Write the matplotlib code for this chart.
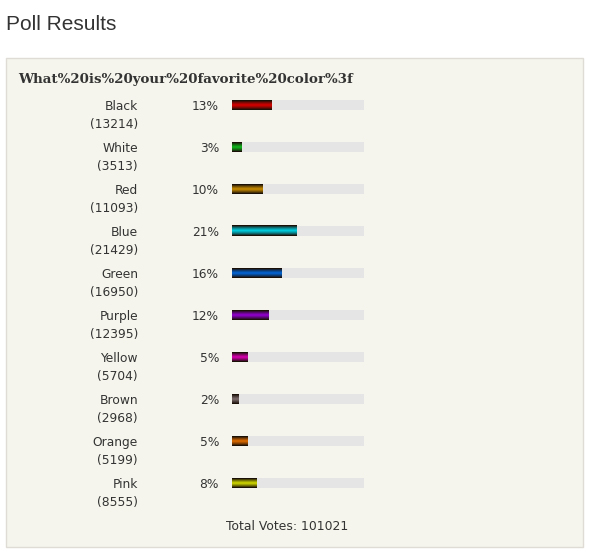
import numpy as np
import matplotlib
matplotlib.use("Agg")
import matplotlib.pyplot as plt
from matplotlib.patches import Rectangle
from matplotlib.colors import LinearSegmentedColormap

# poll data
options = ["Black", "White", "Red", "Blue", "Green", "Purple", "Yellow", "Brown", "Orange", "Pink"]
votes = [13214, 3513, 11093, 21429, 16950, 12395, 5704, 2968, 5199, 8555]
percents = [13, 3, 10, 21, 16, 12, 5, 2, 5, 8]
bar_colors = ["#e00000", "#10c020", "#d09000", "#00c8d8", "#0068e0",
              "#9800d8", "#e000b8", "#807070", "#e87000", "#d8e000"]
total_votes = 101021
question = "What%20is%20your%20favorite%20color%3f"

W, H = 590, 553
fig = plt.figure(figsize=(W / 100, H / 100), dpi=100)
fig.patch.set_facecolor("white")

# page background layer in pixel units
bg = fig.add_axes([0, 0, 1, 1])
bg.set_xlim(0, W); bg.set_ylim(H, 0); bg.axis("off")
bg.add_patch(Rectangle((5.5, 57.5), 577, 489, facecolor="#f5f5ed",
                       edgecolor="#dedcd4", lw=1))
bg.text(6, 25, "Poll Results", fontsize=15, family="Liberation Sans",
        color="#333333", va="center", ha="left")
bg.text(18, 79, question, fontsize=9.6, family="DejaVu Serif", weight="bold",
        color="#333333", va="center", ha="left")
bg.text(287, 526, f"Total Votes: {total_votes}", fontsize=8.9, family="DejaVu Sans",
        color="#333333", va="center", ha="center")

# bar area: track spans 232..364 px, rows 42 px apart starting at y=105
x0, x1 = 232, 364
top, step = 105 - 21, 42
n = len(options)
scale = 3.07  # pixels per percent
ax = fig.add_axes([x0 / W, 1 - (top + n * step) / H, (x1 - x0) / W, n * step / H])
ax.axis("off")

bh = 10 / step
grad = np.abs(np.linspace(-1, 1, 11)).reshape(-1, 1)
for i, (name, v, p, c) in enumerate(zip(options, votes, percents, bar_colors)):
    ax.barh(i, (x1 - x0) / scale, height=bh, color="#e5e5e5", zorder=1)
    cmap = LinearSegmentedColormap.from_list(name, [c, "#1a1008"])
    ax.imshow(grad ** 1.3, cmap=cmap, aspect="auto", interpolation="nearest",
              extent=[0, p, i + bh / 2, i - bh / 2], zorder=2, vmin=0, vmax=1)
    lx = (138 - x0) / scale
    ax.text(lx, i + 0.03, name, fontsize=8.8, color="#333333", ha="right", va="center")
    ax.text(lx, i + 0.47, f"({v})", fontsize=8.8, color="#333333", ha="right", va="center")
    ax.text((219 - x0) / scale, i + 0.03, f"{p}%", fontsize=8.8, color="#333333",
            ha="right", va="center")
ax.set_xlim(0, (x1 - x0) / scale)
ax.set_ylim(n - 0.5, -0.5)

fig.savefig("out.png", dpi=100)
